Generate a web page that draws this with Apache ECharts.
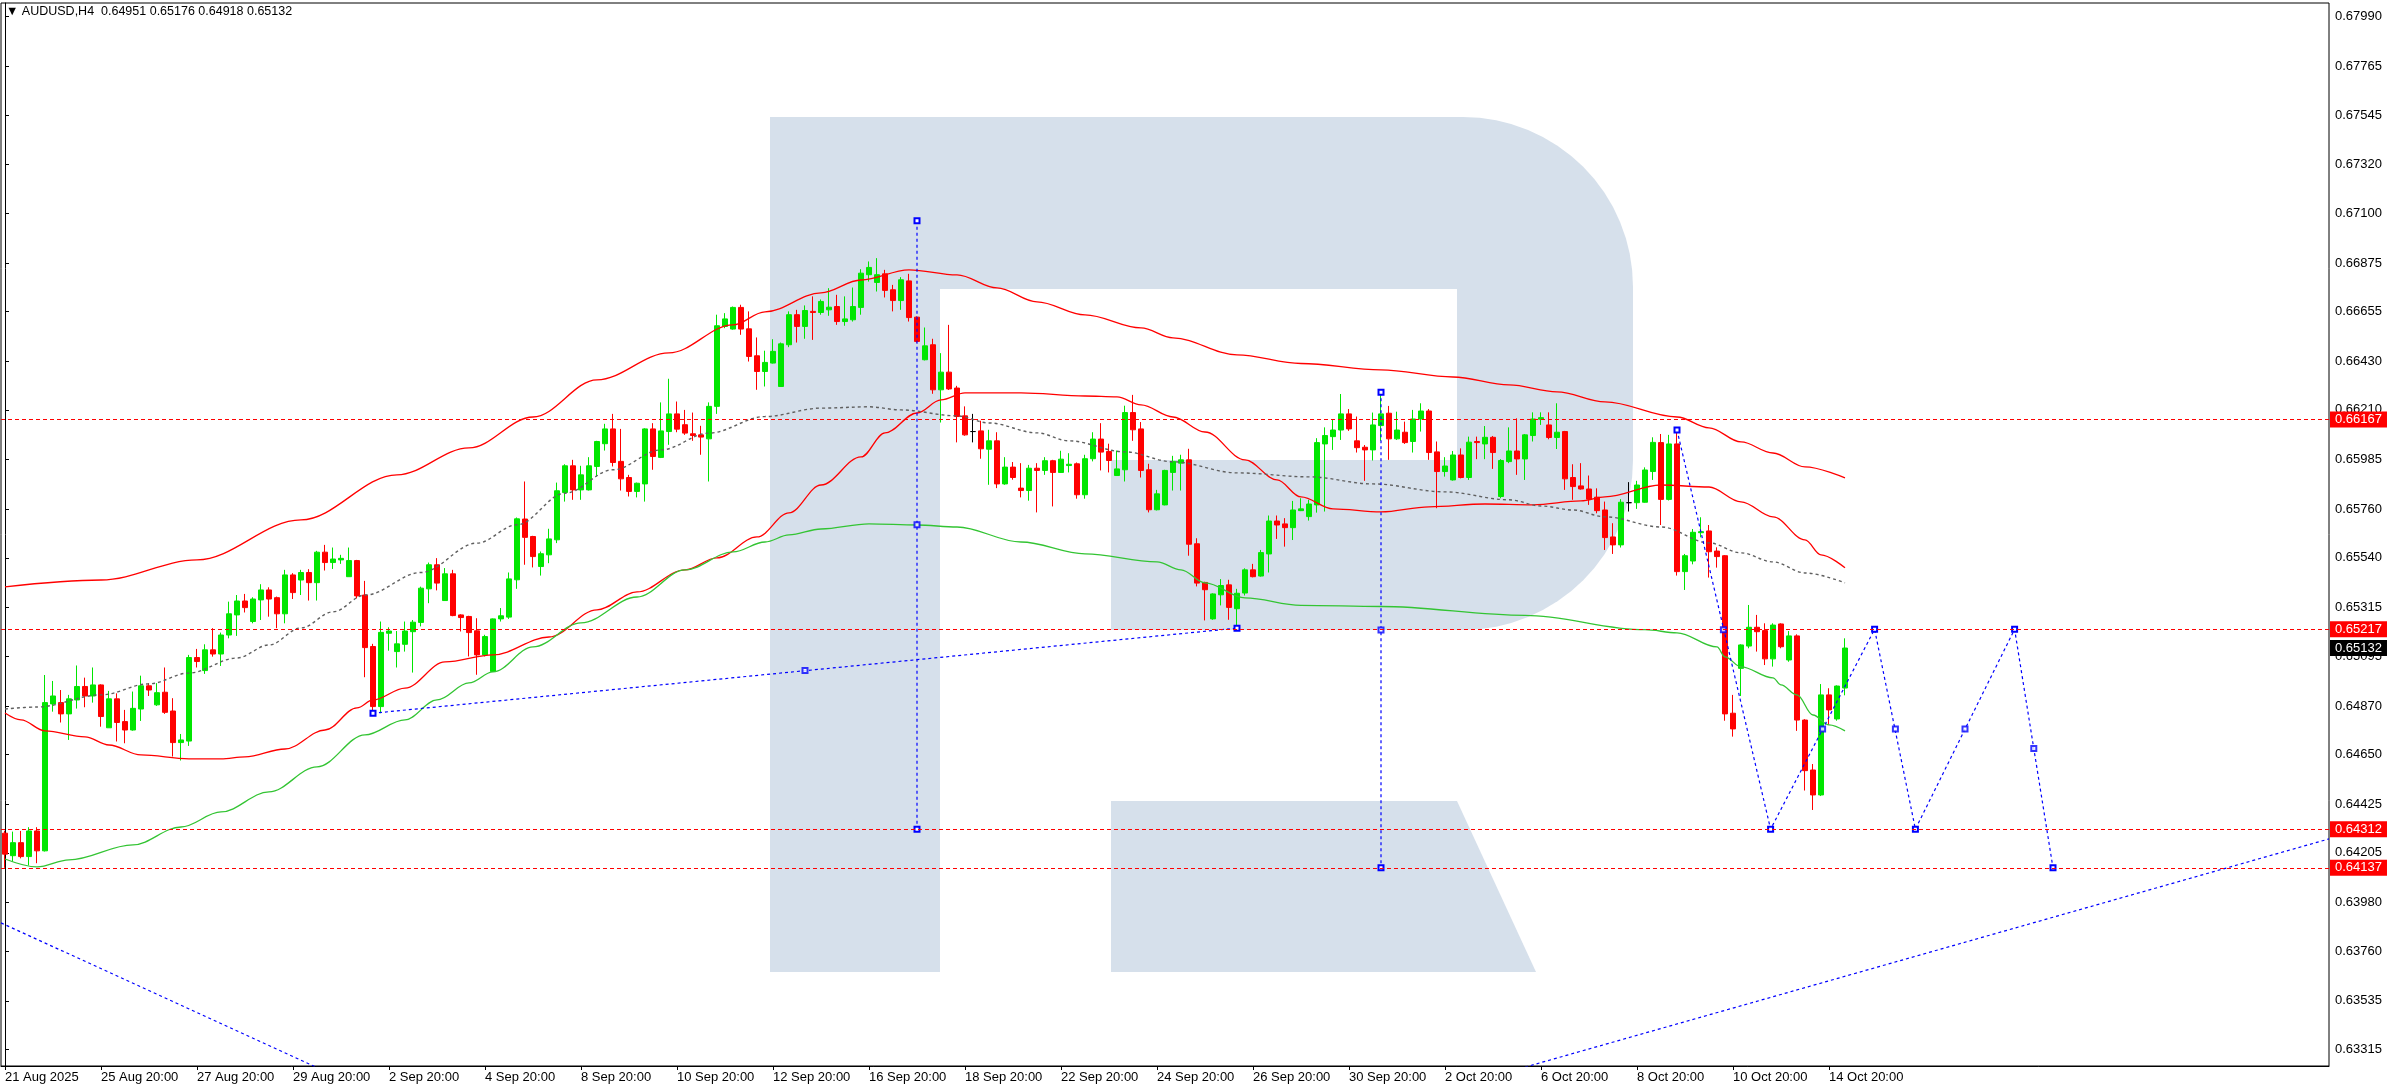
<!DOCTYPE html>
<html>
<head>
<meta charset="utf-8">
<title>AUDUSD,H4</title>
<script src="https://cdn.jsdelivr.net/npm/echarts@6/dist/echarts.min.js"></script>
<style>
html, body { margin: 0; padding: 0; background: #fff; }
#chart { width: 2392px; height: 1090px; }
</style>
</head>
<body>
<div id="chart"></div>
<script>
// H4 candles, index 0 = 21 Aug 20:00, last = 15 Oct 04:00
var opens = [
  0.64294,0.64192,0.64251,0.64188,0.64304,0.64214,0.64879,0.64885,0.64834,0.64897,0.64958,0.64915,
  0.64965,0.64771,0.64902,0.64799,0.64761,0.64856,0.64961,0.64875,0.64932,0.64847,0.64704,0.64711,
  0.65089,0.65030,0.65124,0.65105,0.65191,0.65282,0.65345,0.65252,0.65350,0.65395,0.65360,0.65287,
  0.65463,0.65440,0.65474,0.65428,0.65566,0.65519,0.65531,0.65455,0.65528,0.65372,0.65139,0.64867,
  0.65199,0.65116,0.65149,0.65206,0.65248,0.65400,0.65509,0.65347,0.65468,0.65282,0.65275,0.65210,
  0.65101,0.65026,0.65264,0.65272,0.65441,0.65716,0.65637,0.65501,0.65554,0.65622,0.65836,0.65957,
  0.65848,0.65848,0.65954,0.66057,0.66124,0.65977,0.65904,0.65841,0.65875,0.66124,0.65995,0.66112,
  0.66192,0.66143,0.66102,0.66097,0.66079,0.66226,0.66588,0.66576,0.66674,0.66577,0.66455,0.66384,
  0.66422,0.66316,0.66505,0.66641,0.66588,0.66656,0.66651,0.66663,0.66678,0.66610,0.66618,0.66674,
  0.66822,0.66787,0.66826,0.66754,0.66705,0.66794,0.66630,0.66437,0.66505,0.66301,0.66381,0.66309,
  0.66183,0.66112,0.66115,0.66032,0.66070,0.65875,0.65951,0.65856,0.65845,0.65946,0.65936,0.65980,
  0.65927,0.65958,0.65966,0.65826,0.65989,0.66078,0.66022,0.65913,0.65939,0.66198,0.66124,0.65939,
  0.65758,0.65780,0.65927,0.65969,0.65984,0.65604,0.65429,0.65264,0.65373,0.65418,0.65310,0.65381,
  0.65486,0.65458,0.65558,0.65707,0.65694,0.65677,0.65754,0.65727,0.65780,0.66056,0.66089,0.66119,
  0.66192,0.66070,0.66041,0.66029,0.66139,0.66195,0.66079,0.66109,0.66067,0.66169,0.66205,0.66020,
  0.65931,0.65893,0.66006,0.65904,0.66067,0.66056,0.66086,0.65818,0.65976,0.66024,0.65988,0.66094,
  0.66168,0.66142,0.66085,0.66112,0.65904,0.65866,0.65852,0.65815,0.65757,0.65635,0.65599,0.65790,
  0.65790,0.65792,0.65931,0.66062,0.65805,0.66056,0.65478,0.65526,0.65654,0.65662,0.65571,0.65550,
  0.64837,0.65040,0.65141,0.65226,0.65211,0.65083,0.65241,0.65078,0.65187,0.64806,0.64580,0.64467,
  0.64920,0.64811,0.64951
];
var closes = [
  0.64199,0.64251,0.64188,0.64304,0.64214,0.64885,0.64915,0.64834,0.64902,0.64958,0.64915,0.64965,
  0.64822,0.64902,0.64795,0.64761,0.64859,0.64961,0.64942,0.64930,0.64841,0.64704,0.64716,0.65089,
  0.65071,0.65124,0.65105,0.65191,0.65287,0.65345,0.65315,0.65354,0.65395,0.65354,0.65287,0.65463,
  0.65383,0.65474,0.65428,0.65566,0.65519,0.65535,0.65538,0.65528,0.65368,0.65134,0.64867,0.65203,
  0.65209,0.65151,0.65209,0.65249,0.65403,0.65509,0.65426,0.65468,0.65279,0.65270,0.65202,0.65101,
  0.65184,0.65264,0.65278,0.65445,0.65717,0.65633,0.65546,0.65559,0.65626,0.65844,0.65957,0.65848,
  0.65916,0.65957,0.66067,0.66124,0.65972,0.65898,0.65841,0.65878,0.66124,0.65999,0.66115,0.66192,
  0.66123,0.66105,0.66094,0.66087,0.66226,0.66591,0.66622,0.66674,0.66576,0.66452,0.66384,0.66425,
  0.66475,0.66509,0.66641,0.66588,0.66660,0.66651,0.66701,0.66675,0.66610,0.66622,0.66678,0.66829,
  0.66855,0.66822,0.66751,0.66705,0.66799,0.66628,0.66520,0.66500,0.66301,0.66381,0.66305,0.66180,
  0.66097,0.66112,0.66034,0.66070,0.65875,0.65951,0.65904,0.65845,0.65946,0.65936,0.65980,0.65927,
  0.65987,0.65964,0.65826,0.65989,0.66078,0.66019,0.65981,0.65943,0.66198,0.66120,0.65936,0.65758,
  0.65830,0.65936,0.65977,0.65984,0.65602,0.65426,0.65396,0.65377,0.65415,0.65316,0.65380,0.65486,
  0.65455,0.65564,0.65707,0.65689,0.65677,0.65757,0.65762,0.65784,0.66062,0.66094,0.66119,0.66192,
  0.66124,0.66039,0.66029,0.66142,0.66192,0.66079,0.66119,0.66062,0.66169,0.66205,0.66017,0.65931,
  0.65956,0.66006,0.65904,0.66064,0.66062,0.66086,0.66017,0.65981,0.66024,0.65988,0.66097,0.66169,
  0.66175,0.66085,0.66109,0.65898,0.65863,0.65852,0.65806,0.65754,0.65632,0.65599,0.65792,0.65790,
  0.65870,0.65938,0.66063,0.65805,0.66056,0.65478,0.65550,0.65656,0.65659,0.65568,0.65546,0.64834,
  0.64766,0.65146,0.65226,0.65206,0.65083,0.65236,0.65138,0.65187,0.64806,0.64577,0.64467,0.64920,
  0.64852,0.64960,0.65132
];
var lows = [
  0.64137,0.64165,0.64180,0.64148,0.64158,0.64211,0.64844,0.64795,0.64716,0.64858,0.64864,0.64885,
  0.64776,0.64771,0.64709,0.64701,0.64758,0.64802,0.64915,0.64870,0.64834,0.64641,0.64623,0.64689,
  0.65044,0.65015,0.65093,0.65051,0.65176,0.65187,0.65293,0.65244,0.65259,0.65274,0.65222,0.65244,
  0.65354,0.65372,0.65347,0.65347,0.65483,0.65490,0.65513,0.65455,0.65357,0.65000,0.64837,0.64837,
  0.65120,0.65044,0.65116,0.65021,0.65230,0.65335,0.65393,0.65345,0.65276,0.65207,0.65094,0.65011,
  0.65094,0.65024,0.65252,0.65264,0.65400,0.65509,0.65497,0.65460,0.65516,0.65607,0.65795,0.65803,
  0.65803,0.65845,0.65909,0.66026,0.65954,0.65845,0.65818,0.65814,0.65795,0.65939,0.65992,0.66052,
  0.66109,0.66097,0.66070,0.66007,0.65886,0.66192,0.66580,0.66573,0.66550,0.66429,0.66301,0.66316,
  0.66420,0.66314,0.66494,0.66515,0.66532,0.66527,0.66641,0.66636,0.66595,0.66591,0.66610,0.66641,
  0.66791,0.66746,0.66719,0.66656,0.66663,0.66610,0.66515,0.66434,0.66283,0.66153,0.66300,0.66063,
  0.66093,0.66063,0.65989,0.65871,0.65856,0.65871,0.65894,0.65814,0.65799,0.65746,0.65916,0.65773,
  0.65925,0.65927,0.65808,0.65808,0.65977,0.65936,0.65927,0.65911,0.65886,0.66070,0.65904,0.65746,
  0.65755,0.65778,0.65845,0.65845,0.65550,0.65411,0.65257,0.65260,0.65325,0.65260,0.65222,0.65370,
  0.65452,0.65455,0.65474,0.65626,0.65591,0.65621,0.65752,0.65709,0.65745,0.65750,0.66029,0.66074,
  0.66115,0.66017,0.65889,0.65981,0.66070,0.65984,0.66074,0.66056,0.66017,0.66112,0.65984,0.65765,
  0.65908,0.65890,0.65900,0.65893,0.65987,0.65987,0.65943,0.65810,0.65969,0.65916,0.65893,0.66067,
  0.66142,0.66077,0.66033,0.65848,0.65803,0.65849,0.65780,0.65742,0.65576,0.65558,0.65587,0.65750,
  0.65762,0.65790,0.65893,0.65689,0.65800,0.65460,0.65395,0.65511,0.65633,0.65451,0.65496,0.64803,
  0.64731,0.64915,0.65131,0.65116,0.65055,0.65048,0.65131,0.65070,0.64757,0.64487,0.64399,0.64462,
  0.64784,0.64803,0.64918
];
var highs = [
  0.64305,0.64301,0.64304,0.64321,0.64321,0.65010,0.64983,0.64942,0.64920,0.65053,0.64998,0.65044,
  0.64968,0.64938,0.64927,0.64852,0.64935,0.65007,0.64973,0.64973,0.65044,0.64905,0.64743,0.65101,
  0.65128,0.65149,0.65222,0.65202,0.65342,0.65372,0.65377,0.65362,0.65421,0.65407,0.65365,0.65486,
  0.65471,0.65486,0.65489,0.65572,0.65599,0.65587,0.65554,0.65587,0.65531,0.65436,0.65151,0.65252,
  0.65226,0.65209,0.65252,0.65259,0.65410,0.65519,0.65539,0.65494,0.65486,0.65285,0.65278,0.65267,
  0.65192,0.65266,0.65313,0.65474,0.65723,0.65886,0.65640,0.65569,0.65672,0.65881,0.65964,0.65984,
  0.65957,0.65996,0.66070,0.66147,0.66192,0.66124,0.65916,0.65881,0.66127,0.66150,0.66244,0.66351,
  0.66248,0.66210,0.66198,0.66138,0.66244,0.66641,0.66648,0.66678,0.66686,0.66656,0.66538,0.66478,
  0.66530,0.66515,0.66656,0.66663,0.66683,0.66724,0.66710,0.66761,0.66731,0.66724,0.66764,0.66847,
  0.66882,0.66897,0.66844,0.66776,0.66811,0.66826,0.66633,0.66583,0.66532,0.66467,0.66595,0.66319,
  0.66226,0.66192,0.66161,0.66120,0.66109,0.65996,0.65974,0.65969,0.65961,0.65969,0.65996,0.65984,
  0.66025,0.66014,0.65972,0.66007,0.66109,0.66150,0.66057,0.66026,0.66229,0.66278,0.66155,0.65966,
  0.65848,0.65939,0.66002,0.66007,0.66034,0.65629,0.65432,0.65380,0.65444,0.65441,0.65400,0.65493,
  0.65513,0.65576,0.65732,0.65732,0.65720,0.65798,0.65810,0.65803,0.66082,0.66131,0.66165,0.66282,
  0.66214,0.66180,0.66051,0.66198,0.66293,0.66228,0.66202,0.66157,0.66210,0.66240,0.66214,0.66067,
  0.65996,0.66024,0.66036,0.66089,0.66089,0.66137,0.66092,0.65987,0.66131,0.66172,0.66101,0.66199,
  0.66199,0.66199,0.66240,0.66115,0.65964,0.65969,0.65913,0.65855,0.65795,0.65697,0.65806,0.65883,
  0.65889,0.65950,0.66086,0.66101,0.66097,0.66112,0.65558,0.65671,0.65724,0.65689,0.65588,0.65553,
  0.64920,0.65149,0.65327,0.65282,0.65244,0.65244,0.65244,0.65209,0.65194,0.64810,0.64607,0.64969,
  0.64950,0.64963,0.65176
];
var dojiBars = [121, 203];

// indicator lines, [bar, price]
var redUpper = [[0,0.65409],[12,0.65440],[24,0.65531],[37,0.65712],[49,0.65916],[58,0.66038],[66,0.66178],
  [74,0.66346],[83,0.66468],[91,0.66595],[95,0.66654],[102,0.66740],[107,0.66798],[113,0.66844],[119,0.66821],
  [124,0.66762],[129,0.66699],[135,0.66640],[142,0.66581],[146,0.66536],[154,0.66459],[162,0.66420],[172,0.66391],
  [181,0.66359],[188,0.66323],[194,0.66292],[200,0.66246],[209,0.66178],[213,0.66129],[217,0.66065],[221,0.66015],
  [225,0.65952],[230,0.65902]];
var redLower = [[0,0.64838],[2,0.64807],[5,0.64757],[10,0.64730],[13,0.64693],[17,0.64648],[23,0.64630],[27,0.64630],
  [30,0.64639],[35,0.64675],[40,0.64761],[44,0.64861],[46,0.64897],[50,0.64951],[55,0.65069],[61,0.65101],[68,0.65182],
  [74,0.65305],[79,0.65386],[85,0.65486],[89,0.65540],[94,0.65635],[98,0.65744],[102,0.65870],[107,0.65997],[110,0.66106],
  [114,0.66196],[117,0.66255],[120,0.66287],[127,0.66287],[135,0.66273],[139,0.66269],[142,0.66233],[146,0.66178],
  [150,0.66110],[155,0.65984],[159,0.65893],[162,0.65816],[166,0.65762],[172,0.65748],[178,0.65771],[185,0.65784],
  [191,0.65780],[197,0.65798],[200,0.65816],[207,0.65870],[213,0.65861],[217,0.65794],[221,0.65726],[225,0.65622],
  [227,0.65554],[230,0.65495]];
var greyMid = [[0,0.64856],[4,0.64865],[12,0.64920],[18,0.64970],[23,0.65019],[29,0.65087],[33,0.65146],[37,0.65223],
  [41,0.65296],[45,0.65372],[52,0.65474],[59,0.65607],[64,0.65690],[70,0.65833],[76,0.65939],[82,0.66029],[88,0.66105],
  [95,0.66180],[102,0.66218],[108,0.66224],[112,0.66210],[119,0.66183],[123,0.66151],[129,0.66106],[133,0.66070],
  [140,0.66020],[146,0.65975],[154,0.65925],[163,0.65907],[171,0.65875],[180,0.65839],[188,0.65803],[192,0.65775],
  [196,0.65757],[200,0.65726],[207,0.65680],[213,0.65608],[217,0.65563],[221,0.65522],[225,0.65472],[230,0.65427]];
var greenMa = [[0,0.64177],[4,0.64141],[8,0.64173],[16,0.64241],[22,0.64322],[27,0.64390],[33,0.64481],[39,0.64594],
  [45,0.64739],[50,0.64807],[54,0.64897],[58,0.64974],[61,0.65024],[66,0.65137],[72,0.65246],[79,0.65363],[85,0.65486],
  [91,0.65567],[95,0.65612],[98,0.65644],[102,0.65671],[108,0.65694],[114,0.65689],[119,0.65680],[127,0.65612],
  [135,0.65558],[144,0.65522],[147,0.65486],[150,0.65427],[155,0.65359],[162,0.65325],[172,0.65320],[190,0.65280],
  [205,0.65215],[209,0.65201],[214,0.65137],[215,0.65092],[217,0.65047],[221,0.64997],[222,0.64965],[224,0.64920],
  [226,0.64829],[228,0.64784],[230,0.64757]];

// drawn objects (blue dotted)
var lineDownLeft = [[-0.5,0.63888],[39,0.63233]];
var lineUpRight = [[190,0.63235],[290.5,0.64268]];
var trendLine = [[46,0.64837],[154,0.65222]];
var vertLine1 = [[114,0.67066],[114,0.64312]];
var vertLine2 = [[172,0.66290],[172,0.64137]];
var forecast = [[209,0.66119],[220.7,0.64312],[233.7,0.65217],[238.8,0.64312],[251.2,0.65217],[256,0.64137]];
var objectMids = [[100,0.65030],[114,0.65690],[172,0.65214],[214.8,0.65215],[227.2,0.64765],[236.3,0.64765],[245,0.64765],[253.6,0.64677]];

var levels = [0.66167, 0.65217, 0.64312, 0.64137];
var lastPrice = 0.65132;

var yTicks = [0.67990,0.67765,0.67545,0.67320,0.67100,0.66875,0.66655,0.66430,0.66210,0.65985,0.65760,
  0.65540,0.65315,0.65095,0.64870,0.64650,0.64425,0.64205,0.63980,0.63760,0.63535,0.63315];
var tickLabels = ['21 Aug 2025','25 Aug 20:00','27 Aug 20:00','29 Aug 20:00','2 Sep 20:00','4 Sep 20:00',
  '8 Sep 20:00','10 Sep 20:00','12 Sep 20:00','16 Sep 20:00','18 Sep 20:00','22 Sep 20:00','24 Sep 20:00',
  '26 Sep 20:00','30 Sep 20:00','2 Oct 20:00','6 Oct 20:00','8 Oct 20:00','10 Oct 20:00','14 Oct 20:00'];
var headerText = '\u25BC AUDUSD,H4  0.64951 0.65176 0.64918 0.65132';

var SLOTS = 291;
var BARS_PER_TICK = 12;
var FONT = '"Liberation Sans", Arial, sans-serif';
var slots = [];
for (var i = 0; i < SLOTS; i++) slots.push(String(i));

function isTick(idx) {
  return idx % BARS_PER_TICK === 0 && idx / BARS_PER_TICK < tickLabels.length;
}

var candleData = opens.map(function (o, i) {
  var item = { value: [o, closes[i], lows[i], highs[i]] };
  if (dojiBars.indexOf(i) >= 0) {
    item.itemStyle = { color: '#000', color0: '#000', borderColor: '#000', borderColor0: '#000' };
  }
  return item;
});

function bandLine(name, data, color, type, width) {
  return {
    name: name, type: 'line', xAxisIndex: 1, yAxisIndex: 0, data: data,
    showSymbol: false, smooth: 0.35, smoothMonotone: 'x', z: 3,
    lineStyle: { color: color, width: width || 1.3, type: type || 'solid' }
  };
}
function objLine(name, data, marks) {
  return {
    name: name, type: 'line', xAxisIndex: 1, yAxisIndex: 0, data: data, z: 4,
    showSymbol: marks, symbol: 'emptyRect', symbolSize: 5,
    itemStyle: { color: '#0000ff', borderColor: '#0000ff', borderWidth: 1 },
    lineStyle: { color: '#0000ff', width: 1.2, type: [3, 3] }
  };
}

var chart = echarts.init(document.getElementById('chart'));
chart.setOption({
  animation: false,
  backgroundColor: '#ffffff',
  grid: {
    left: 1, right: 63, top: 3, bottom: 24,
    show: true, borderColor: '#000', borderWidth: 1,
    containLabel: false, outerBoundsMode: 'none'
  },
  graphic: [
    { type: 'rect', z: -10, silent: true, shape: { x: 770, y: 117, width: 863, height: 513, r: [0, 170, 170, 0] }, style: { fill: '#d6e0eb' } },
    { type: 'rect', z: -9, silent: true, shape: { x: 940, y: 289, width: 517, height: 171 }, style: { fill: '#ffffff' } },
    { type: 'rect', z: -9, silent: true, shape: { x: 940, y: 460, width: 171, height: 170 }, style: { fill: '#ffffff' } },
    { type: 'rect', z: -8, silent: true, shape: { x: 770, y: 117, width: 170, height: 855 }, style: { fill: '#d6e0eb' } },
    { type: 'polygon', z: -8, silent: true, shape: { points: [[1111, 801], [1457, 801], [1536, 972], [1111, 972]] }, style: { fill: '#d6e0eb' } },
    { type: 'text', left: 6, top: 5, silent: true, style: { text: headerText, font: '12.5px ' + FONT, fill: '#000' } }
  ],
  xAxis: [{
    type: 'category', data: slots, boundaryGap: true, gridIndex: 0,
    axisLine: { show: true, lineStyle: { color: '#000', width: 1 } },
    axisTick: { show: true, interval: isTick, alignWithLabel: true, length: 4, lineStyle: { color: '#000' } },
    axisLabel: {
      interval: isTick, align: 'left', margin: 5, color: '#000', fontSize: 13, fontFamily: FONT,
      formatter: function (v, idx) { return tickLabels[idx / BARS_PER_TICK] || ''; }
    },
    splitLine: { show: false }
  }, {
    type: 'value', gridIndex: 0, min: -0.5, max: SLOTS - 0.5, show: false
  }],
  yAxis: {
    type: 'value', position: 'right', min: 0.63240, max: 0.68052, scale: true,
    axisLine: { show: true, lineStyle: { color: '#000', width: 1 } },
    axisTick: { show: true, customValues: yTicks, length: 4, lineStyle: { color: '#000' } },
    axisLabel: {
      customValues: yTicks, margin: 6, color: '#000', fontSize: 13, fontFamily: FONT,
      formatter: function (v) { return v.toFixed(5); }
    },
    splitLine: { show: false }
  },
  series: [
    {
      name: 'AUDUSD,H4', type: 'candlestick', xAxisIndex: 0, yAxisIndex: 0,
      data: candleData, barWidth: 5, z: 2,
      itemStyle: { color: '#00e600', color0: '#ff0000', borderColor: '#00e600', borderColor0: '#ff0000', borderWidth: 1 },
      markLine: {
        silent: true, symbol: ['none', 'none'], animation: false, precision: 5,
        lineStyle: { color: '#ff0000', type: [4, 3], width: 1 },
        label: {
          position: 'end', distance: 1, color: '#fff', backgroundColor: '#ff0000',
          padding: [2, 5, 1, 5], fontSize: 13, fontFamily: FONT,
          formatter: function (p) { return Number(p.value).toFixed(5); }
        },
        data: levels.map(function (v) { return { yAxis: v }; }).concat([{
          yAxis: lastPrice, lineStyle: { color: 'rgba(0,0,0,0)', width: 0 },
          label: { backgroundColor: '#000000', color: '#ffffff' }
        }])
      }
    },
    bandLine('upper', redUpper, '#ff0000'),
    bandLine('lower', redLower, '#ff0000'),
    bandLine('middle', greyMid, '#5f5f5f', [3, 3], 1.4),
    bandLine('ma', greenMa, '#33c433'),
    objLine('down', lineDownLeft, false),
    objLine('up', lineUpRight, false),
    objLine('trend', trendLine, true),
    objLine('v1', vertLine1, true),
    objLine('v2', vertLine2, true),
    objLine('forecast', forecast, true),
    {
      name: 'mids', type: 'scatter', xAxisIndex: 1, yAxisIndex: 0, data: objectMids, z: 4,
      symbol: 'emptyRect', symbolSize: 5,
      itemStyle: { color: '#0000ff', borderColor: '#0000ff', borderWidth: 1 }
    }
  ]
});
</script>
</body>
</html>
